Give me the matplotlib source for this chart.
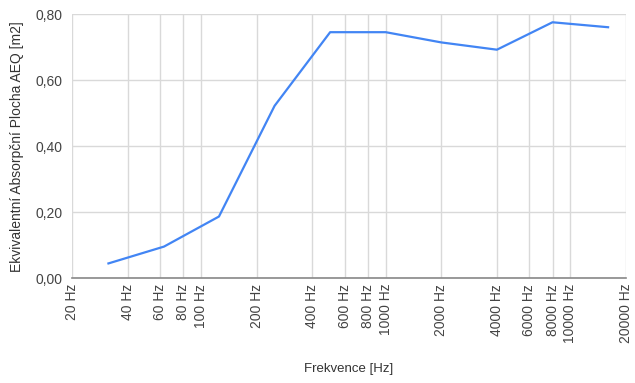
import matplotlib
matplotlib.use("Agg")
import matplotlib.pyplot as plt
from matplotlib.ticker import FixedLocator, NullLocator

# octave band centre frequencies and equivalent absorption area
freqs = [31.5, 63, 125, 250, 500, 1000, 2000, 4000, 8000, 16000]
aeq = [0.045, 0.096, 0.187, 0.522, 0.745, 0.745, 0.714, 0.692, 0.775, 0.760]

x_ticks = [20, 40, 60, 80, 100, 200, 400, 600, 800, 1000, 2000, 4000,
           6000, 8000, 10000, 20000]
y_ticks = [0.0, 0.2, 0.4, 0.6, 0.8]

plt.rcParams['font.family'] = ['Liberation Sans', 'DejaVu Sans']

fig = plt.figure(figsize=(6.35, 3.83), dpi=100)
ax = fig.add_axes([0.1134, 0.2734, 0.8724, 0.69])

ax.plot(freqs, aeq, color='#4285F4', linewidth=1.6, zorder=3)

ax.set_xscale('log')
ax.set_xlim(20, 20000)
ax.set_ylim(0, 0.8)
ax.xaxis.set_major_locator(FixedLocator(x_ticks))
ax.xaxis.set_minor_locator(NullLocator())
ax.set_xticklabels([f"{t} Hz" for t in x_ticks], rotation=90, va='top',
                   ha='center')
ax.set_yticks(y_ticks)
ax.set_yticklabels([f"{v:.2f}".replace('.', ',') for v in y_ticks])

ax.grid(True, color='#d9d9d9', linewidth=1.0, zorder=0)
ax.tick_params(length=0, labelsize=10, colors='#444444', pad=4)
ax.tick_params(axis='y', pad=7)
for s in ['top', 'right', 'left']:
    ax.spines[s].set_visible(False)
ax.spines['bottom'].set_color('#888888')
ax.spines['bottom'].set_linewidth(1.2)
ax.spines['bottom'].set_zorder(4)

ax.set_xlabel("Frekvence [Hz]", fontsize=9.5, color='#333333', labelpad=14)
ax.set_ylabel("Ekvivalentní Absorpční Plocha AEQ [m2]", fontsize=10,
              color='#333333', labelpad=8)

fig.savefig("out.png", dpi=100)
